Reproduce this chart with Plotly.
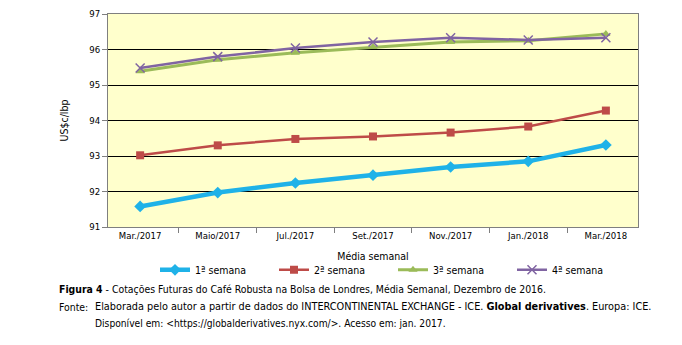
import plotly.graph_objects as go

categories = ["Mar./2017", "Maio/2017", "Jul./2017", "Set./2017", "Nov./2017", "Jan./2018", "Mar./2018"]
semana1 = [91.58, 91.97, 92.24, 92.46, 92.69, 92.85, 93.31]
semana2 = [93.02, 93.30, 93.48, 93.55, 93.66, 93.83, 94.28]
semana3 = [95.39, 95.71, 95.91, 96.07, 96.21, 96.25, 96.44]
semana4 = [95.48, 95.80, 96.04, 96.21, 96.33, 96.27, 96.33]
series_names = ["1ª semana", "2ª semana", "3ª semana", "4ª semana"]

FONT = "DejaVu Sans Condensed, Liberation Sans, sans-serif"

fig = go.Figure()
specs = [
    (semana1, "#1FB2E8", "diamond", 4.5, 9),
    (semana2, "#BE4B48", "square", 2.5, 8),
    (semana3, "#9BBB59", "triangle-up", 3, 8),
    (semana4, "#8064A2", "x-thin-open", 2.5, 9),
]
for (vals, col, sym, w, ms), name in zip(specs, series_names):
    marker = dict(symbol=sym, size=ms, color=col)
    if sym == "x-thin-open":
        marker["line"] = dict(color=col, width=1.5)
    fig.add_trace(go.Scatter(
        x=categories, y=vals, name=name, mode="lines+markers",
        line=dict(color=col, width=w), marker=marker,
    ))

fig.update_layout(
    width=682, height=345,
    margin=dict(l=108, r=44, t=8, b=118),
    paper_bgcolor="white",
    plot_bgcolor="#FFFFCC",
    font=dict(family=FONT, size=10, color="black"),
    showlegend=True,
    legend=dict(orientation="h", x=(155 - 108) / 530, xanchor="left",
                y=(227 - 271) / 219, yanchor="middle",
                font=dict(size=10.5, family=FONT), itemwidth=30, tracegroupgap=0,
                entrywidthmode="pixels", entrywidth=74, bgcolor="rgba(0,0,0,0)"),
    xaxis=dict(
        type="category", showgrid=False, showline=True, linecolor="#7f7f7f",
        ticks="outside", tickson="boundaries", ticklen=5, tickcolor="#7f7f7f",
        tickfont=dict(size=9.5, family=FONT), mirror=True,
        title=dict(text="Média semanal", font=dict(size=10.5, family=FONT), standoff=12),
    ),
    yaxis=dict(
        range=[91, 97], dtick=1, showgrid=True, gridcolor="black", gridwidth=1,
        showline=True, linecolor="#7f7f7f", mirror=True,
        ticks="outside", ticklen=5, tickcolor="#7f7f7f",
        tickfont=dict(size=9.5, family=FONT), zeroline=False,
        title=dict(text="US$c/lbp", font=dict(size=10.5, family=FONT), standoff=18),
    ),
)

captions = [
    (291, 57, 10.4, "<b>Figura 4</b> - Cotações Futuras do Café Robusta na Bolsa de Londres, Média Semanal, Dezembro de 2016."),
    (309, 57, 10.4, "Fonte:"),
    (309, 93, 10.8, "Elaborada pelo autor a partir de dados do INTERCONTINENTAL EXCHANGE - ICE. <b>Global derivatives</b>. Europa: ICE."),
    (326, 93, 10.2, "Disponível em: &lt;https://globalderivatives.nyx.com/&gt;. Acesso em: jan. 2017."),
]
for y, x, fs, t in captions:
    fig.add_annotation(text=t, xref="paper", yref="paper",
                       x=(x - 108) / 530, y=(345 - y - 118) / 219,
                       xanchor="left", yanchor="middle", showarrow=False,
                       font=dict(size=fs, family=FONT, color="black"))

fig.write_html("out.html")
